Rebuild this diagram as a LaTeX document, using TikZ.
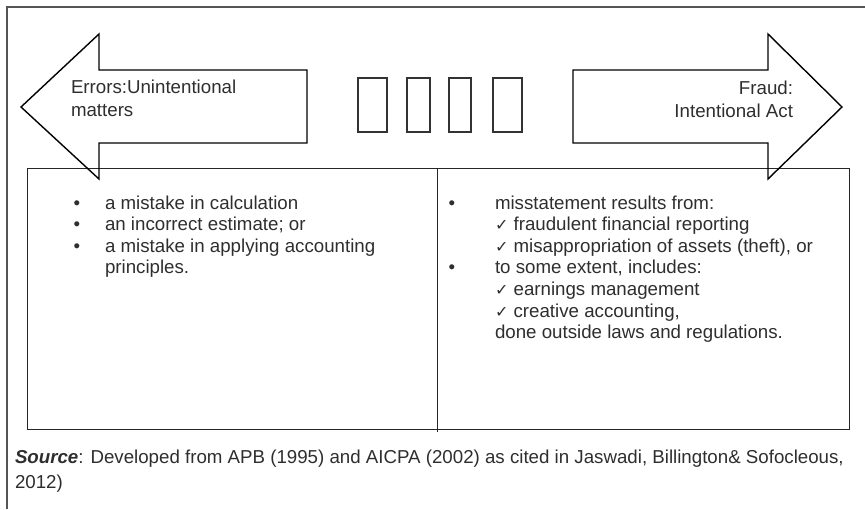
\documentclass[tikz,border=0pt]{standalone}
\usepackage{fontspec}
\setmainfont{Liberation Sans}
\newfontfamily\chkfont{DejaVu Sans}
\definecolor{txt}{HTML}{2E2E2E}
\definecolor{frame}{HTML}{555555}
\newcommand{\chk}{{\chkfont\fontsize{16}{16}\selectfont ✓}}
\begin{document}
\begin{tikzpicture}[x=1pt,y=-1pt,
  every node/.style={inner sep=0pt,outer sep=0pt,text=txt,font=\fontsize{18.7}{21.6}\selectfont},
  lt/.style={anchor=base west},
  rt/.style={anchor=base east},
  arrowshape/.style={draw=black,line width=1.4pt,line join=miter},
  bar/.style={draw=black!80,line width=1.1pt},
  tablebox/.style={draw=black!85,line width=1pt},
  bul/.style={anchor=base,font=\fontsize{18.7}{21.6}\selectfont}]
\useasboundingbox (0,0) rectangle (865,509);
% outer frame (top and left only)
\draw[frame,line width=1.6pt] (865,7) -- (7,7) -- (7,509);
% table
\draw[tablebox] (27,168) rectangle (849,429);
\draw[tablebox] (437,168) -- (437,432);
% arrows
\draw[arrowshape] (21,107) -- (99,34) -- (99,70) -- (307,70) -- (307,143) -- (99,143) -- (99,179) -- cycle;
\draw[arrowshape] (842,107) -- (768,34) -- (768,70) -- (573,70) -- (573,143) -- (768,143) -- (768,179) -- cycle;
% small rectangles
\draw[bar] (358,78) rectangle (387,132);
\draw[bar] (407,78) rectangle (430,132);
\draw[bar] (449,78) rectangle (471,132);
\draw[bar] (493,78) rectangle (522,132);
% arrow labels
\node[lt] (e1) at (71,93) {Errors:Unintentional};
\node[lt] (e2) at (71,116) {matters};
\node[rt] (f1) at (793,94) {Fraud:};
\node[rt] (f2) at (793,117) {Intentional Act};
% left column
\node[bul] (lb1) at (77,209) {•};
\node[lt] (l1) at (105,209) {a mistake in calculation};
\node[bul] (lb2) at (77,230.6) {•};
\node[lt] (l2) at (105,230.6) {an incorrect estimate; or};
\node[bul] (lb3) at (77,252.2) {•};
\node[lt] (l3) at (105,252.2) {a mistake in applying accounting};
\node[lt] (l4) at (105,273.8) {principles.};
% right column
\node[bul] (rb1) at (452,209) {•};
\node[lt] (r1) at (495,209) {misstatement results from:};
\node[lt] (r2) at (495,230.6) {\chk{} fraudulent financial reporting};
\node[lt] (r3) at (495,252.2) {\chk{} misappropriation of assets (theft), or};
\node[bul] (rb2) at (452,273.8) {•};
\node[lt] (r4) at (495,273.8) {to some extent, includes:};
\node[lt] (r5) at (495,295.4) {\chk{} earnings management};
\node[lt] (r6) at (495,317) {\chk{} creative accounting,};
\node[lt] (r7) at (495,338.6) {done outside laws and regulations.};
% source
\node[lt] (s1) at (15,463) {\textbf{\textit{Source}}: Developed from APB (1995) and AICPA (2002) as cited in Jaswadi, Billington\& Sofocleous,};
\node[lt] (s2) at (15,488) {2012)};
\end{tikzpicture}
\end{document}
